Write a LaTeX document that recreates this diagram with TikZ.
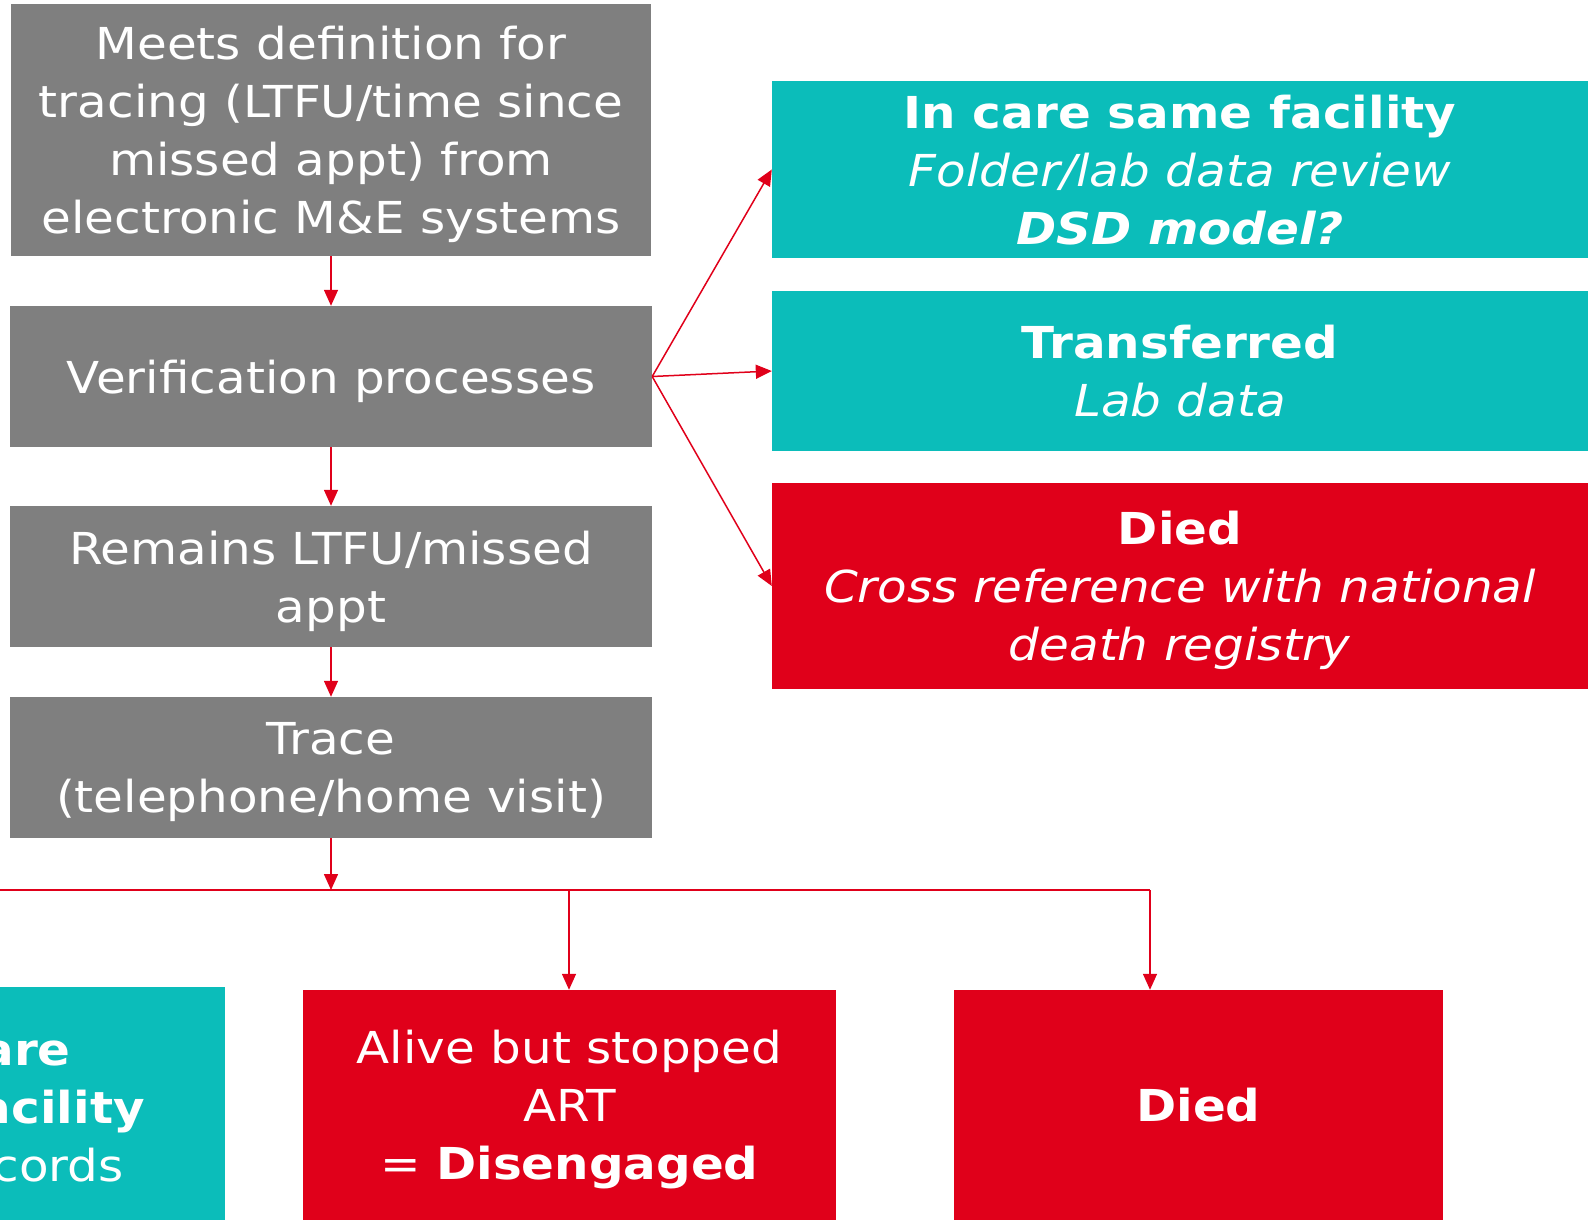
\documentclass[tikz,border=0pt]{standalone}
\usepackage{fontspec}
\setmainfont[FakeStretch=1.1]{DejaVu Sans}
\usetikzlibrary{arrows.meta}
\definecolor{boxgray}{RGB}{127,127,127}
\definecolor{tealc}{RGB}{11,189,186}
\definecolor{redc}{RGB}{224,0,26}
\begin{document}
\begin{tikzpicture}[x=1pt,y=-1pt,
  box/.style={rectangle, inner sep=0pt, text=white, align=center, text depth=0pt, font=\fontsize{44}{58}\selectfont},
  gbox/.style={box, fill=boxgray},
  tbox/.style={box, fill=tealc},
  rbox/.style={box, fill=redc},
  frag/.style={text=white, inner sep=0pt, font=\fontsize{44}{58}\selectfont},
  arr/.style={draw=redc, line width=1.5pt, -{Triangle[length=16pt,width=14pt]}},
  ln/.style={draw=redc, line width=1.5pt}
]
\useasboundingbox (0,0) rectangle (1588,1220);
\node[gbox, minimum width=640pt, minimum height=252pt] (m) at (331,130)
  {Meets definition for\\tracing (LTFU/time since\\missed appt) from\\electronic M\&E systems};
\node[gbox, minimum width=642pt, minimum height=141pt] (v) at (331,376.5) {Verification processes};
\node[gbox, minimum width=642pt, minimum height=141pt] (r) at (331,576.5) {Remains LTFU/missed\\appt};
\node[gbox, minimum width=642pt, minimum height=141pt] (t) at (331,767.5) {Trace\\(telephone/home visit)};
\node[tbox, minimum width=816pt, minimum height=177pt] (a) at (1180,169.5)
  {\textbf{In care same facility}\\\textit{Folder/lab data review}\\\textbf{\textit{DSD model?}}};
\node[tbox, minimum width=816pt, minimum height=160pt] (b) at (1180,371)
  {\textbf{Transferred}\\\textit{Lab data}};
\node[rbox, minimum width=816pt, minimum height=206pt] (c) at (1180,586)
  {\textbf{Died}\\\textit{Cross reference with national}\\\textit{death registry}};
\node[tbox, minimum width=325pt, minimum height=233pt] (s) at (62.5,1103.5) {};
\node[frag, anchor=base east, font=\fontsize{44}{58}\selectfont\bfseries] (s1) at (71,1065) {are};
\node[frag, anchor=base east, font=\fontsize{44}{58}\selectfont\bfseries] (s2) at (145,1123) {acility};
\node[frag, anchor=base east] (s3) at (124,1181) {cords};
\node[rbox, minimum width=533pt, minimum height=230pt] (d) at (569.5,1105)
  {Alive but stopped\\ART\\= \textbf{Disengaged}};
\node[rbox, minimum width=489pt, minimum height=230pt] (e) at (1198.5,1105) {\textbf{Died}};
\draw[arr] (m) -- (v);
\draw[arr] (v) -- (r);
\draw[arr] (r) -- (t);
\draw[arr] (v.east) -- (a.west);
\draw[arr] (v.east) -- (b.west);
\draw[arr] (v.east) -- (c.west);
\coordinate (hl) at (-5,890);
\coordinate (hj) at (331,890);
\coordinate (hm) at (569,890);
\coordinate (hr) at (1150,890);
\draw[arr] (t.south) -- (hj);
\draw[ln] (hl) -- (hr);
\draw[arr] (hr) -- (hr |- e.north);
\draw[arr] (hm) -- (hm |- d.north);
\end{tikzpicture}
\end{document}
